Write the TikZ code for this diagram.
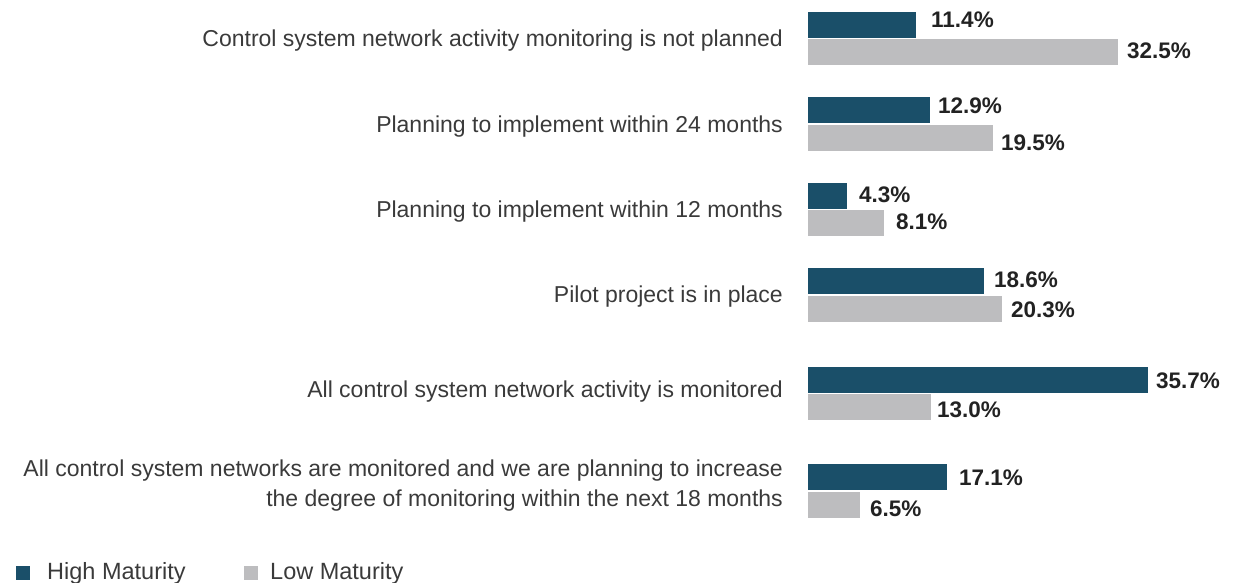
\documentclass[tikz,border=0pt]{standalone}
\usepackage{fontspec}
\setmainfont{Liberation Sans}
\definecolor{hiC}{HTML}{1A4F69}
\definecolor{loC}{HTML}{BDBDBF}
\definecolor{txtC}{HTML}{3A3A3A}
\definecolor{valC}{HTML}{222222}
\begin{document}
\begin{tikzpicture}[x=1pt,y=-1pt,
  hibar/.style={fill=hiC,draw=none,inner sep=0pt,minimum height=26pt,anchor=north west},
  lobar/.style={fill=loC,draw=none,inner sep=0pt,minimum height=26pt,anchor=north west},
  val/.style={font=\fontsize{22.5}{24}\selectfont\bfseries,text=valC,anchor=base west,inner sep=0pt},
  cat/.style={font=\fontsize{23}{30}\selectfont,text=txtC,anchor=east,align=right,inner sep=0pt},
  legsq/.style={inner sep=0pt,minimum size=14pt,anchor=north west},
  legtxt/.style={font=\fontsize{23.5}{24}\selectfont,text=txtC,anchor=west,inner sep=0pt}]
\useasboundingbox (0,0) rectangle (1234,583);
% group 1
\node[hibar,minimum width=108] (h1) at (808,12) {};
\node[lobar,minimum width=310] (l1) at (808,39) {};
\node[val] (v1a) at (931,27.5) {11.4\%};
\node[val] (v1b) at (1127,58.5) {32.5\%};
\node[cat] (c1) at (783,41) {Control system network activity monitoring is not planned};
% group 2
\node[hibar,minimum width=122] (h2) at (808,97) {};
\node[lobar,minimum width=185] (l2) at (808,125) {};
\node[val] (v2a) at (938,113.5) {12.9\%};
\node[val] (v2b) at (1001,150.5) {19.5\%};
\node[cat] (c2) at (783,127) {Planning to implement within 24 months};
% group 3
\node[hibar,minimum width=39] (h3) at (808,183) {};
\node[lobar,minimum width=76] (l3) at (808,210) {};
\node[val] (v3a) at (859,202.5) {4.3\%};
\node[val] (v3b) at (896,229) {8.1\%};
\node[cat] (c3) at (783,212) {Planning to implement within 12 months};
% group 4
\node[hibar,minimum width=176] (h4) at (808,268) {};
\node[lobar,minimum width=194] (l4) at (808,296) {};
\node[val] (v4a) at (994,287.5) {18.6\%};
\node[val] (v4b) at (1011,317.5) {20.3\%};
\node[cat] (c4) at (783,297) {Pilot project is in place};
% group 5
\node[hibar,minimum width=340] (h5) at (808,367) {};
\node[lobar,minimum width=123] (l5) at (808,394) {};
\node[val] (v5a) at (1156,388.5) {35.7\%};
\node[val] (v5b) at (937,417.5) {13.0\%};
\node[cat] (c5) at (783,392) {All control system network activity is monitored};
% group 6
\node[hibar,minimum width=139] (h6) at (808,464) {};
\node[lobar,minimum width=52] (l6) at (808,492) {};
\node[val] (v6a) at (959,485.5) {17.1\%};
\node[val] (v6b) at (870,516.5) {6.5\%};
\node[cat] (c6) at (783,486) {All control system networks are monitored and we are planning to increase\\the degree of monitoring within the next 18 months};
% legend
\node[legsq,fill=hiC] (lg1) at (16,566) {};
\node[legtxt] (lt1) at (47,573) {High Maturity};
\node[legsq,fill=loC] (lg2) at (244,566) {};
\node[legtxt] (lt2) at (270,573) {Low Maturity};
\end{tikzpicture}
\end{document}
